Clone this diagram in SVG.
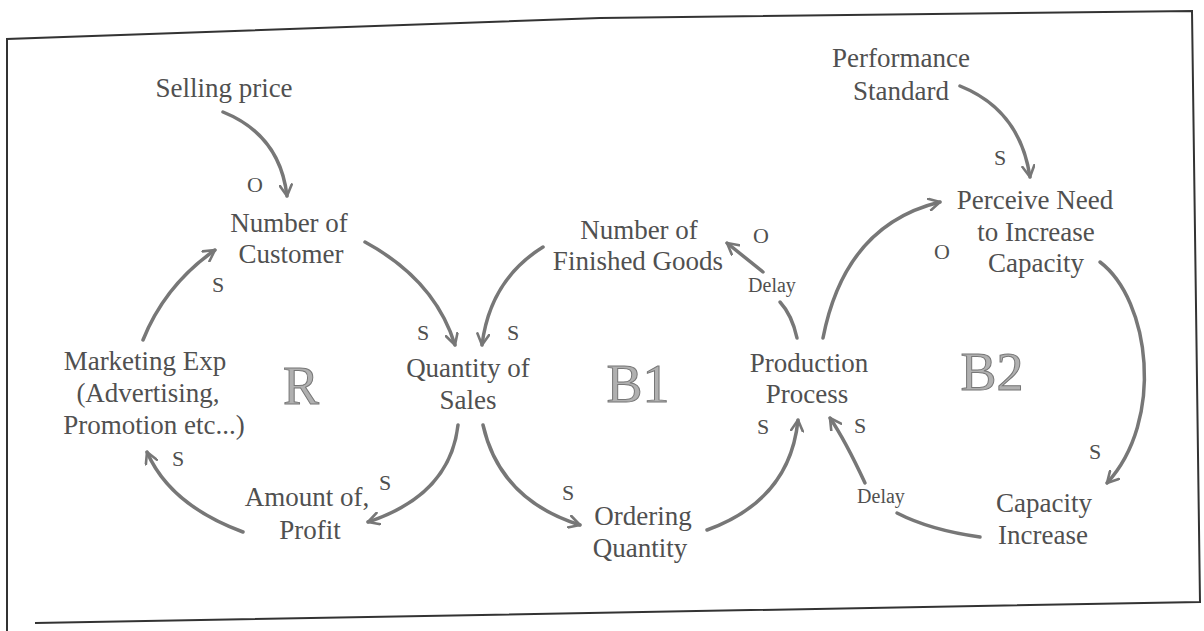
<svg xmlns="http://www.w3.org/2000/svg" width="1204" height="631" viewBox="0 0 1204 631">
<defs>
<style>
.t{font-family:"Liberation Serif","Times New Roman",serif;font-size:27px;fill:#505050;text-anchor:middle}
.p{font-family:"Liberation Serif","Times New Roman",serif;font-size:22px;fill:#505050;text-anchor:middle}
.d{font-family:"Liberation Serif","Times New Roman",serif;font-size:20px;fill:#505050;text-anchor:middle}
.big{font-family:"Liberation Serif","Times New Roman",serif;font-size:54px;fill:#b0b0b0;stroke:#777;stroke-width:1;text-anchor:middle}
.a{fill:none;stroke:#777;stroke-width:3.5;stroke-linecap:round}
</style>
<marker id="ah" viewBox="0 0 14 14" refX="12" refY="7" markerWidth="14" markerHeight="14" markerUnits="userSpaceOnUse" orient="auto">
<path d="M1,1 L12,7 L1,13" fill="none" stroke="#777" stroke-width="2.6" stroke-linecap="round" stroke-linejoin="round"/>
</marker>
</defs>
<rect width="1204" height="631" fill="#fff"/>
<path d="M7,631 L7,39 L600,18 L1192,11 L1200,602 L35,623" fill="none" stroke="#333" stroke-width="2"/>

<g id="connectors">
<path class="a" d="M223,112 Q280,135 287,196" marker-end="url(#ah)"/>
<path class="a" d="M365,242 Q435,280 455,345" marker-end="url(#ah)"/>
<path class="a" d="M543,247 Q490,280 482,345" marker-end="url(#ah)"/>
<path class="a" d="M143,340 Q165,285 215,250" marker-end="url(#ah)"/>
<path class="a" d="M458,425 Q450,495 368,522" marker-end="url(#ah)"/>
<path class="a" d="M243,532 Q170,505 147,452" marker-end="url(#ah)"/>
<path class="a" d="M483,425 Q500,500 580,525" marker-end="url(#ah)"/>
<path class="a" d="M707,530 Q790,500 798,420" marker-end="url(#ah)"/>
<path class="a" d="M797,338 Q792,315 780,302"/>
<path class="a" d="M763,272 L727,243" marker-end="url(#ah)"/>
<path class="a" d="M823,338 Q845,225 940,202" marker-end="url(#ah)"/>
<path class="a" d="M960,86 Q1020,110 1030,177" marker-end="url(#ah)"/>
<path class="a" d="M1100,262 C1150,300 1165,420 1107,483" marker-end="url(#ah)"/>
<path class="a" d="M980,537 Q930,530 897,513"/>
<path class="a" d="M865,483 Q845,440 830,418" marker-end="url(#ah)"/>
</g>

<g id="selling-price"><text class="t" x="224" y="97">Selling price</text></g>
<g id="performance-standard"><text class="t" x="901" y="67">Performance</text><text class="t" x="901" y="100">Standard</text></g>
<g id="number-of-customer"><text class="t" x="289" y="232">Number of</text><text class="t" x="291" y="263">Customer</text></g>
<g id="finished-goods"><text class="t" x="639" y="239">Number of</text><text class="t" x="638" y="270">Finished Goods</text></g>
<g id="perceive-need"><text class="t" x="1035" y="209">Perceive Need</text><text class="t" x="1036" y="241">to Increase</text><text class="t" x="1036" y="272">Capacity</text></g>
<g id="marketing-exp"><text class="t" x="145" y="370">Marketing Exp</text><text class="t" x="148" y="402">(Advertising,</text><text class="t" x="154" y="434">Promotion etc...)</text></g>
<g id="quantity-of-sales"><text class="t" x="468" y="377">Quantity of</text><text class="t" x="468" y="409">Sales</text></g>
<g id="production-process"><text class="t" x="809" y="372">Production</text><text class="t" x="807" y="403">Process</text></g>
<g id="amount-of-profit"><text class="t" x="307" y="506">Amount of,</text><text class="t" x="310" y="539">Profit</text></g>
<g id="ordering-quantity"><text class="t" x="643" y="525">Ordering</text><text class="t" x="640" y="557">Quantity</text></g>
<g id="capacity-increase"><text class="t" x="1044" y="512">Capacity</text><text class="t" x="1043" y="544">Increase</text></g>

<g id="loop-labels">
<text class="big" x="301" y="404">R</text>
<text class="big" x="638" y="402">B1</text>
<text class="big" x="992" y="390">B2</text>
</g>

<g id="polarity-labels">
<text class="p" x="255" y="192">O</text>
<text class="p" x="761" y="243">O</text>
<text class="p" x="942" y="259">O</text>
<text class="p" x="218" y="292">S</text>
<text class="p" x="423" y="340">S</text>
<text class="p" x="513" y="340">S</text>
<text class="p" x="1000" y="165">S</text>
<text class="p" x="178" y="466">S</text>
<text class="p" x="385" y="490">S</text>
<text class="p" x="568" y="500">S</text>
<text class="p" x="763" y="434">S</text>
<text class="p" x="860" y="433">S</text>
<text class="p" x="1095" y="459">S</text>
<text class="d" x="772" y="292">Delay</text>
<text class="d" x="881" y="503">Delay</text>
</g>
</svg>
